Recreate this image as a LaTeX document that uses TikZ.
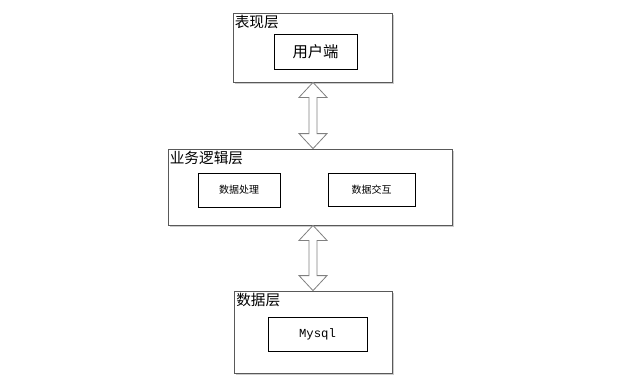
\documentclass[tikz,border=0pt]{standalone}
\usepackage{fontspec}
\newfontfamily\cjk{Noto Sans CJK SC}
\setmonofont{Liberation Mono}
\usetikzlibrary{calc}
\begin{document}
\begin{tikzpicture}[x=0.75pt,y=-0.75pt,
  outer/.style={draw=black!65,line width=0.6pt,fill=white,inner sep=0pt,
    drop shadow/.style={},},
  inner/.style={draw=black,line width=0.6pt,fill=white,inner sep=0pt},
  lbl/.style={anchor=north west,inner sep=0pt,font=\cjk\fontsize{11}{11}\selectfont},
  arr/.style={draw=black!50,line width=0.6pt,fill=white,line join=miter}]
\useasboundingbox (0,0) rectangle (642,380);
% shadows
\fill[black!20] (235,15) rectangle (394,84);
\fill[black!20] (170,151) rectangle (454,227);
\fill[black!20] (236,293) rectangle (394,375);
% top layer
\node[outer,minimum width=119.25pt,minimum height=51.75pt] (top) at (312.5,47.5) {};
\node[lbl] (toplbl) at (234.5,14.5) {表现层};
\node[inner,minimum width=62.25pt,minimum height=26.25pt,font=\cjk\fontsize{11.5}{11.5}\selectfont] (client) at (315.5,51.5) {用户端};
% middle layer
\node[outer,minimum width=213pt,minimum height=57pt] (mid) at (310,187) {};
\node[lbl] (midlbl) at (169.5,151) {业务逻辑层};
\node[inner,minimum width=61.5pt,minimum height=25.5pt,font=\cjk\fontsize{7.5}{7.5}\selectfont] (proc) at (239,190) {数据处理};
\node[inner,minimum width=65.25pt,minimum height=24.75pt,font=\cjk\fontsize{7.5}{7.5}\selectfont] (inter) at (371.5,189.5) {数据交互};
% bottom layer
\node[outer,minimum width=118.5pt,minimum height=61.5pt] (bot) at (313,332) {};
\node[lbl] (botlbl) at (236,293) {数据层};
\node[inner,minimum width=74.25pt,minimum height=25.5pt,font=\ttfamily\fontsize{9.2}{9.2}\selectfont] (db) at (317.5,334) {Mysql};
% arrows
\coordinate (ax) at (313,0);
\foreach \a/\b in {top/mid,mid/bot}{
  \coordinate (p) at (\a.south -| ax);
  \coordinate (q) at (\b.north -| ax);
  \draw[arr] (p) -- ++(14,15) -- ++(-10,0) -- ($(q)+(4,-15)$) -- ++(10,0) -- (q)
    -- ++(-14,-15) -- ++(10,0) -- ($(p)+(-4,15)$) -- ++(-10,0) -- cycle;
}
\end{tikzpicture}
\end{document}
